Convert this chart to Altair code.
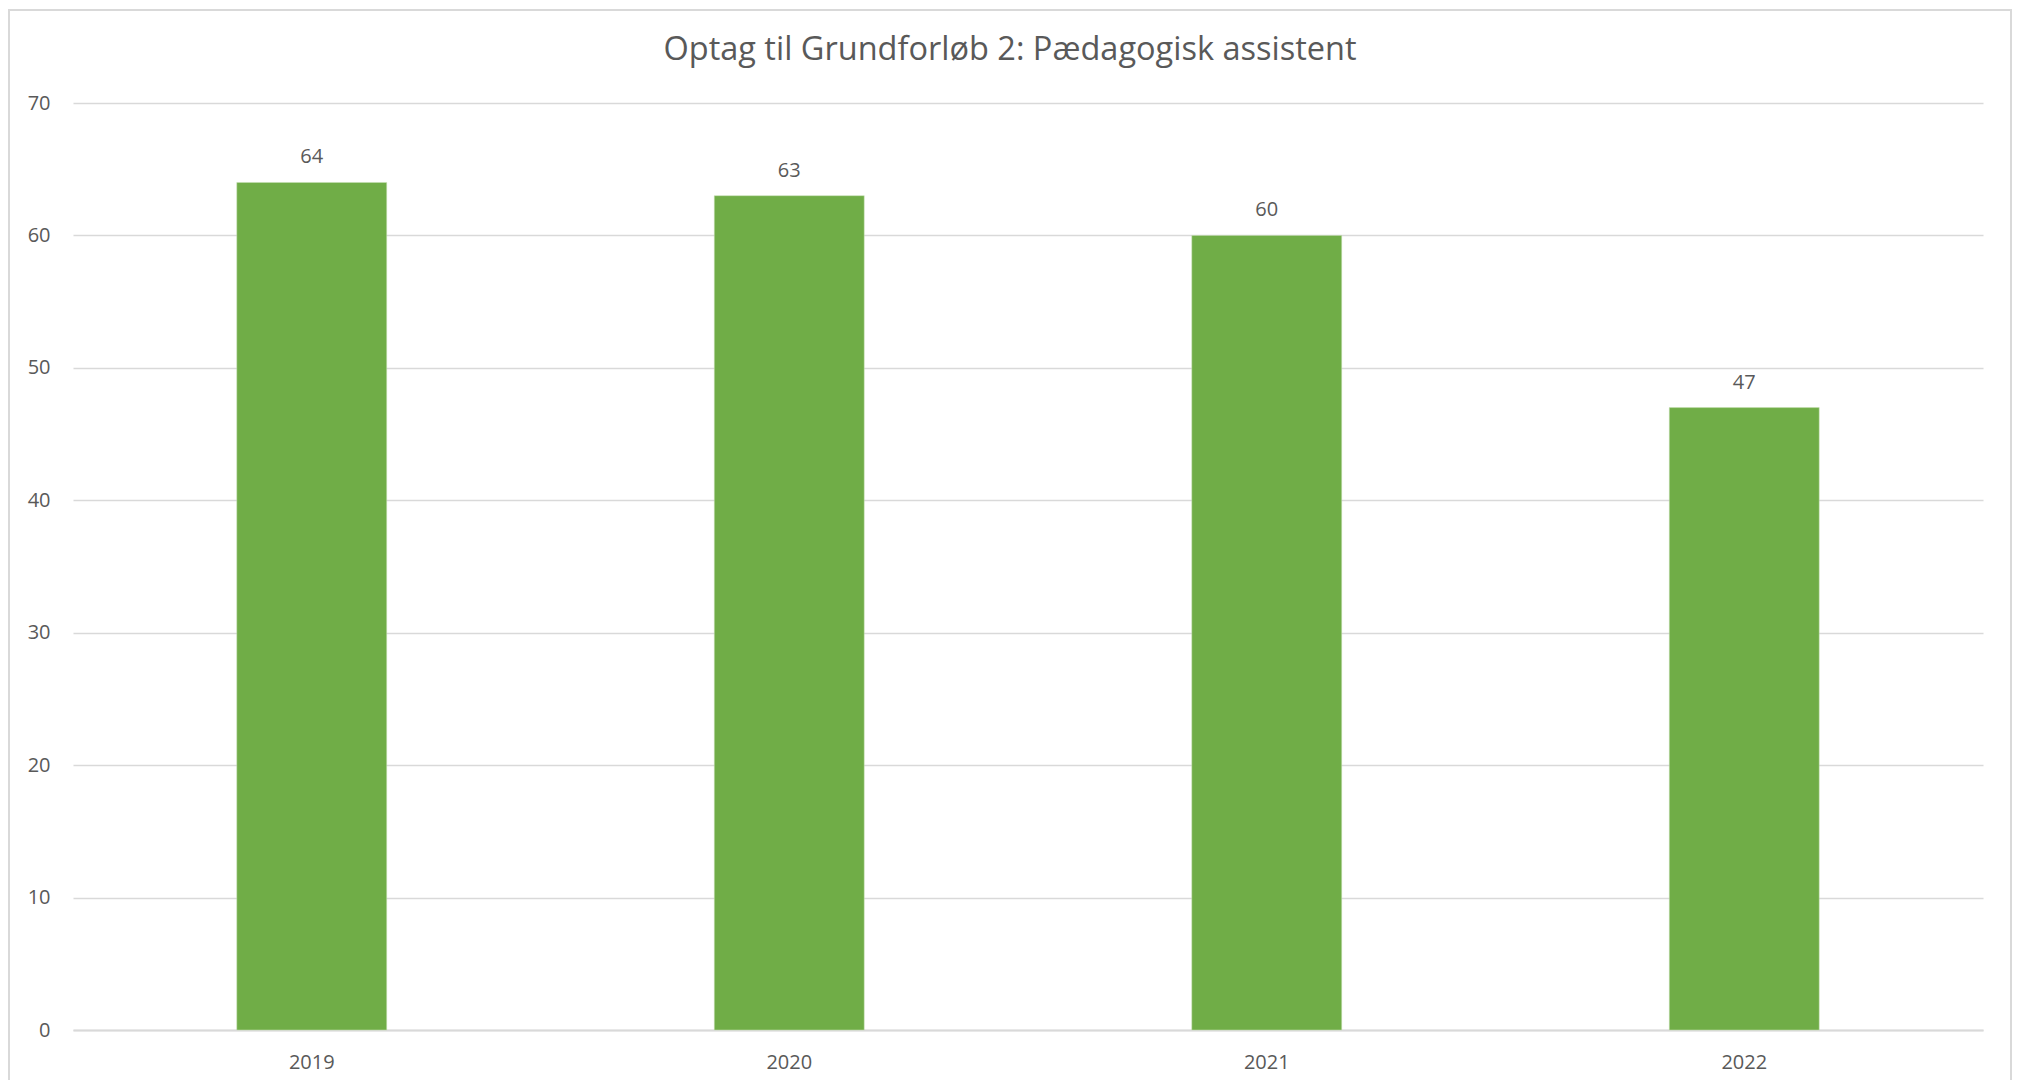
import altair as alt
import pandas as pd

years = ["2019", "2020", "2021", "2022"]
values = [64, 63, 60, 47]
title_text = "Optag til Grundforløb 2: Pædagogisk assistent"

df = pd.DataFrame({"year": years, "value": values})

FONT = "Open Sans"
TXT = "#595959"
GRID = "#D9D9D9"
W, H = 1910, 927

base = alt.Chart(df)

bars = base.mark_bar(color="#70AD47", stroke="#C9E0B6", strokeWidth=0.5).encode(
    x=alt.X("year:N", sort=years, title=None,
            scale=alt.Scale(paddingInner=0.686, paddingOuter=0.343),
            axis=alt.Axis(labelAngle=0, labelFont=FONT, labelFontSize=20,
                          labelColor=TXT, ticks=False, domain=True,
                          domainColor=GRID, domainWidth=2, labelPadding=22,
                          labelBaseline="top", grid=False)),
    y=alt.Y("value:Q", title=None,
            scale=alt.Scale(domain=[0, 70], nice=False),
            axis=alt.Axis(values=list(range(0, 71, 10)), labelFont=FONT,
                          labelFontSize=20, labelColor=TXT, ticks=False,
                          domain=False, grid=True, gridColor=GRID,
                          gridWidth=1.5, labelPadding=23)),
)

labels = base.mark_text(font=FONT, fontSize=20, color=TXT, baseline="alphabetic",
                        dy=-19).encode(
    x=alt.X("year:N", sort=years),
    y=alt.Y("value:Q"),
    text=alt.Text("value:Q"),
)

frame = base.mark_rect(fill=None, stroke=GRID, strokeWidth=2).encode(
    x=alt.value(-64), x2=alt.value(1938), y=alt.value(-93), y2=alt.value(1100)
)

chart = alt.layer(frame, bars, labels).properties(
    width=W, height=H,
    padding={"left": 65, "top": 95, "right": 30, "bottom": 50},
    autosize=alt.AutoSizeParams(type="none"),
    title=alt.Title(title_text, font=FONT, fontSize=32.5, fontWeight="normal",
                    color=TXT, anchor="middle", baseline="alphabetic",
                    offset=-83, dx=-18),
).configure(background="white").configure_view(strokeWidth=0)

chart.save("out.html", embed_options={"renderer": "svg", "actions": False})
